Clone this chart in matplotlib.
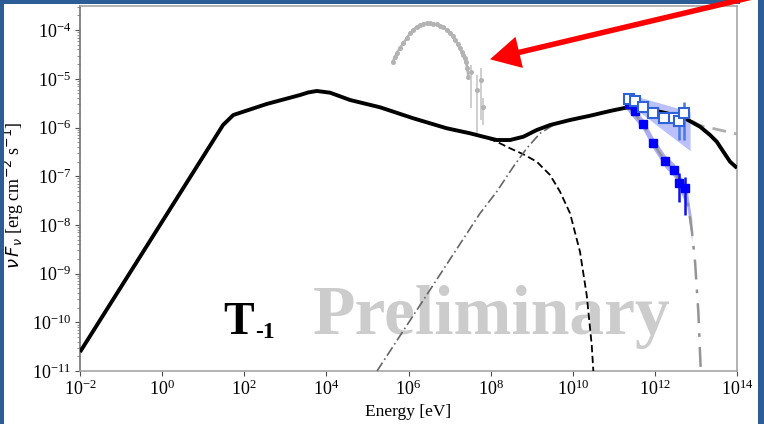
import numpy as np
import matplotlib
matplotlib.use("Agg")
import matplotlib.pyplot as plt
from matplotlib.patches import Rectangle, FancyArrow
from matplotlib.ticker import NullFormatter

plt.rcParams['font.family'] = ['Liberation Serif', 'DejaVu Serif']
plt.rcParams['mathtext.fontset'] = 'dejavusans'

# ---------------- data (log10 values) ----------------
# total model (black solid)
tot_logE = [-2.000, 1.483, 1.734, 2.547, 3.358, 3.553, 3.765, 4.089, 4.576, 5.306, 6.117, 6.931,
            7.498, 7.822, 8.148, 8.473, 8.797, 9.123, 9.447, 9.934, 10.421, 10.908, 11.315,
            11.638, 12.288, 12.776, 13.100, 13.343, 13.507, 13.667, 13.830, 14.000]
tot_logF = [-10.610, -5.949, -5.743, -5.517, -5.333, -5.281, -5.250, -5.285, -5.435, -5.585, -5.811, -6.016,
            -6.119, -6.189, -6.257, -6.257, -6.189, -6.051, -5.949, -5.846, -5.758, -5.661, -5.589,
            -5.585, -5.708, -5.832, -5.984, -6.154, -6.292, -6.497, -6.702, -6.832]

# synchrotron (black dashed)
syn_logE = [6.931, 7.822, 8.148, 8.473, 8.797, 9.123, 9.447, 9.690, 9.934, 10.177, 10.340, 10.462, 10.501]
syn_logF = [-6.016, -6.189, -6.292, -6.427, -6.550, -6.702, -6.975, -7.318, -7.762, -8.556, -9.446, -10.472, -11.0]

# inverse Compton (dark dash-dot)
ic_logE = [5.233, 7.742, 8.148, 8.553, 8.879, 9.203, 9.527, 9.934, 10.421, 10.908, 11.315]
ic_logF = [-11.0, -7.762, -7.318, -6.805, -6.427, -6.119, -5.949, -5.846, -5.758, -5.661, -5.589]

# intrinsic high-energy tail (gray dashed)
intr_logE = [11.315, 12.126, 12.776, 13.100, 14.000]
intr_logF = [-5.589, -5.680, -5.811, -5.959, -6.133]

# absorbed high-energy tail (gray dash-dot)
abs_logE = [11.298, 11.711, 11.955, 12.247, 12.466, 12.613, 12.776, 12.898, 12.978, 13.058, 13.117]
abs_logF = [-5.517, -5.928, -6.318, -6.688, -6.873, -7.140, -7.427, -8.105, -8.762, -9.789, -11.0]

# keV-MeV spectrum (gray points)
gbm_logE = [5.616, 5.665, 5.713, 5.790, 5.874, 5.955, 6.037, 6.120, 6.200, 6.280, 6.361, 6.440,
            6.524, 6.605, 6.687, 6.770, 6.848, 6.930, 7.011, 7.075, 7.133, 7.195, 7.255, 7.300,
            7.335, 7.370, 7.401, 7.433, 7.457]
gbm_logF = [-4.649, -4.560, -4.476, -4.370, -4.271, -4.165, -4.066, -3.990, -3.930, -3.895, -3.875, -3.863,
            -3.860, -3.866, -3.881, -3.908, -3.943, -3.998, -4.066, -4.130, -4.203, -4.285, -4.374, -4.445,
            -4.511, -4.580, -4.649, -4.784, -4.957]
gbe_logE = [7.515, 7.661, 7.758, 7.822]
gbe_logF = [-4.854, -5.230, -5.025, -5.573]
gbe_lo = [-5.606, -6.119, -5.850, -5.949]
gbe_hi = [-4.717, -4.922, -4.784, -5.400]

# TeV data: open squares (intrinsic), filled squares (observed)
open_logE = [11.378, 11.517, 11.719, 11.963, 12.230, 12.467, 12.588, 12.718]
open_logF = [-5.421, -5.450, -5.573, -5.696, -5.799, -5.799, -5.860, -5.696]
open_lo = [-5.421, -5.450, -5.573, -5.696, -5.799, -5.799, -6.257, -6.257]
open_hi = [-5.421, -5.450, -5.573, -5.696, -5.799, -5.799, -5.743, -5.470]

fill_logE = [11.378, 11.517, 11.719, 11.963, 12.240, 12.472, 12.596, 12.734]
fill_logF = [-5.517, -5.655, -5.928, -6.324, -6.692, -6.873, -7.133, -7.248]
fill_lo = [-5.517, -5.655, -5.928, -6.324, -6.692, -6.873, -7.524, -7.797]
fill_hi = [-5.517, -5.655, -5.928, -6.324, -6.692, -6.873, -6.934, -7.010]

# butterfly bands
bow_logE = [11.298, 12.857]
bow_hi = [-5.298, -5.676]
bow_lo = [-5.470, -6.476]
band_logE = [11.30, 11.71, 11.96, 12.25, 12.47, 12.61, 12.78, 12.90]
band_hi = [-5.42, -5.82, -6.21, -6.57, -6.74, -6.98, -7.25, -7.90]
band_lo = [-5.62, -6.04, -6.44, -6.82, -7.02, -7.31, -7.62, -8.35]

p = lambda a: 10 ** np.asarray(a, dtype=float)

# ---------------- figure ----------------
fig = plt.figure(figsize=(7.64, 4.24), dpi=100)
ax = fig.add_axes([0.1047, 0.125, 0.8600, 0.8597])
ax.set_xscale('log')
ax.set_yscale('log')

ax.fill_between(p(bow_logE), p(bow_lo), p(bow_hi), color='#3a4cf0', alpha=0.35, lw=0, zorder=2)
ax.fill_between(p(band_logE), p(band_lo), p(band_hi), color='#5a5ae6', alpha=0.5, lw=0, zorder=2)

ax.plot(p(syn_logE), p(syn_logF), color='black', lw=1.3, dashes=(4, 2), zorder=3)
ax.plot(p(ic_logE), p(ic_logF), color='0.4', lw=1.2, dashes=(6, 2, 1, 2), zorder=3)
ax.plot(p(intr_logE), p(intr_logF), color='0.68', lw=2.0, dashes=(5, 3), zorder=3)
ax.plot(p(abs_logE), p(abs_logF), color='0.58', lw=1.8, dashes=(8, 4, 1.5, 4), zorder=3)
ax.plot(p(tot_logE), p(tot_logF), color='black', lw=2.8, zorder=4, solid_capstyle='butt')

ax.plot(p(gbm_logE), p(gbm_logF), color='0.7', lw=1.8, marker='o', ms=2.6, zorder=3)
gy = p(gbe_logF)
ax.errorbar(p(gbe_logE), gy, yerr=[gy - p(gbe_lo), p(gbe_hi) - gy], fmt='o', ms=2.6,
            color='0.7', ecolor='0.78', elinewidth=1.2, capsize=0, zorder=3)

oy = p(open_logF)
ax.errorbar(p(open_logE), oy, yerr=[oy - p(open_lo), p(open_hi) - oy], fmt='s', ms=6.5,
            mfc='white', mec='#2d62d8', mew=1.5, ecolor='#4a78e0', elinewidth=1.8,
            capsize=0, zorder=6)
fy = p(fill_logF)
ax.errorbar(p(fill_logE), fy, yerr=[fy - p(fill_lo), p(fill_hi) - fy], fmt='s', ms=6,
            mfc='#0000ff', mec='#0000ff', ecolor='#1010ee', elinewidth=1.8,
            capsize=0, zorder=5)

ax.set_xlim(1e-2, 1e14)
ax.set_ylim(1e-11, 10 ** -3.515)
ax.xaxis.set_minor_formatter(NullFormatter())
ax.yaxis.set_minor_formatter(NullFormatter())

for s in ax.spines.values():
    s.set_color('0.65')
    s.set_linewidth(1.2)
ax.spines['left'].set_color('0.45')
ax.tick_params(which='major', direction='out', length=3.5, width=0.8, color='0.3',
               labelsize=13, pad=3)
ax.tick_params(which='minor', direction='out', length=2, width=0.6, color='0.5')

ax.set_xlabel('Energy [eV]', fontsize=12.5, labelpad=3)
ax.set_ylabel(r'$\nu\, F_\nu$ [erg cm$^{-2}$ s$^{-1}$]', fontsize=13)
ax.yaxis.set_label_coords(-0.082, 0.483)

ax.text(0.3546, 0.1015, 'Preliminary', transform=ax.transAxes, fontsize=50,
        fontweight='bold', color='#cccccc', ha='left', va='baseline', zorder=1)
ax.text(0.2177, 0.1015, 'T', transform=ax.transAxes, fontsize=33,
        fontweight='bold', color='black', ha='left', va='baseline', zorder=7)
ax.text(0.2664, 0.0905, '-1', transform=ax.transAxes, fontsize=17,
        fontweight='bold', color='black', ha='left', va='baseline', zorder=7)

# slide frame
blue = '#2c5d96'
W, H = 764.0, 424.0
fig.add_artist(Rectangle((0, 0), 4 / W, 1, transform=fig.transFigure, color=blue, lw=0, zorder=10))
fig.add_artist(Rectangle((758 / W, 0), 6 / W, 1, transform=fig.transFigure, color=blue, lw=0, zorder=10))
fig.add_artist(Rectangle((0, 1 - 4 / H), 740 / W, 4 / H, transform=fig.transFigure, color=blue, lw=0, zorder=10))

# red arrow
arrow = FancyArrow(7.80, 4.336, -2.90, -0.689, width=0.055, head_width=0.32, head_length=0.30,
                   length_includes_head=True, color='#ff0000', lw=0,
                   transform=fig.dpi_scale_trans, zorder=20)
fig.add_artist(arrow)

fig.savefig('out.png', dpi=100)
